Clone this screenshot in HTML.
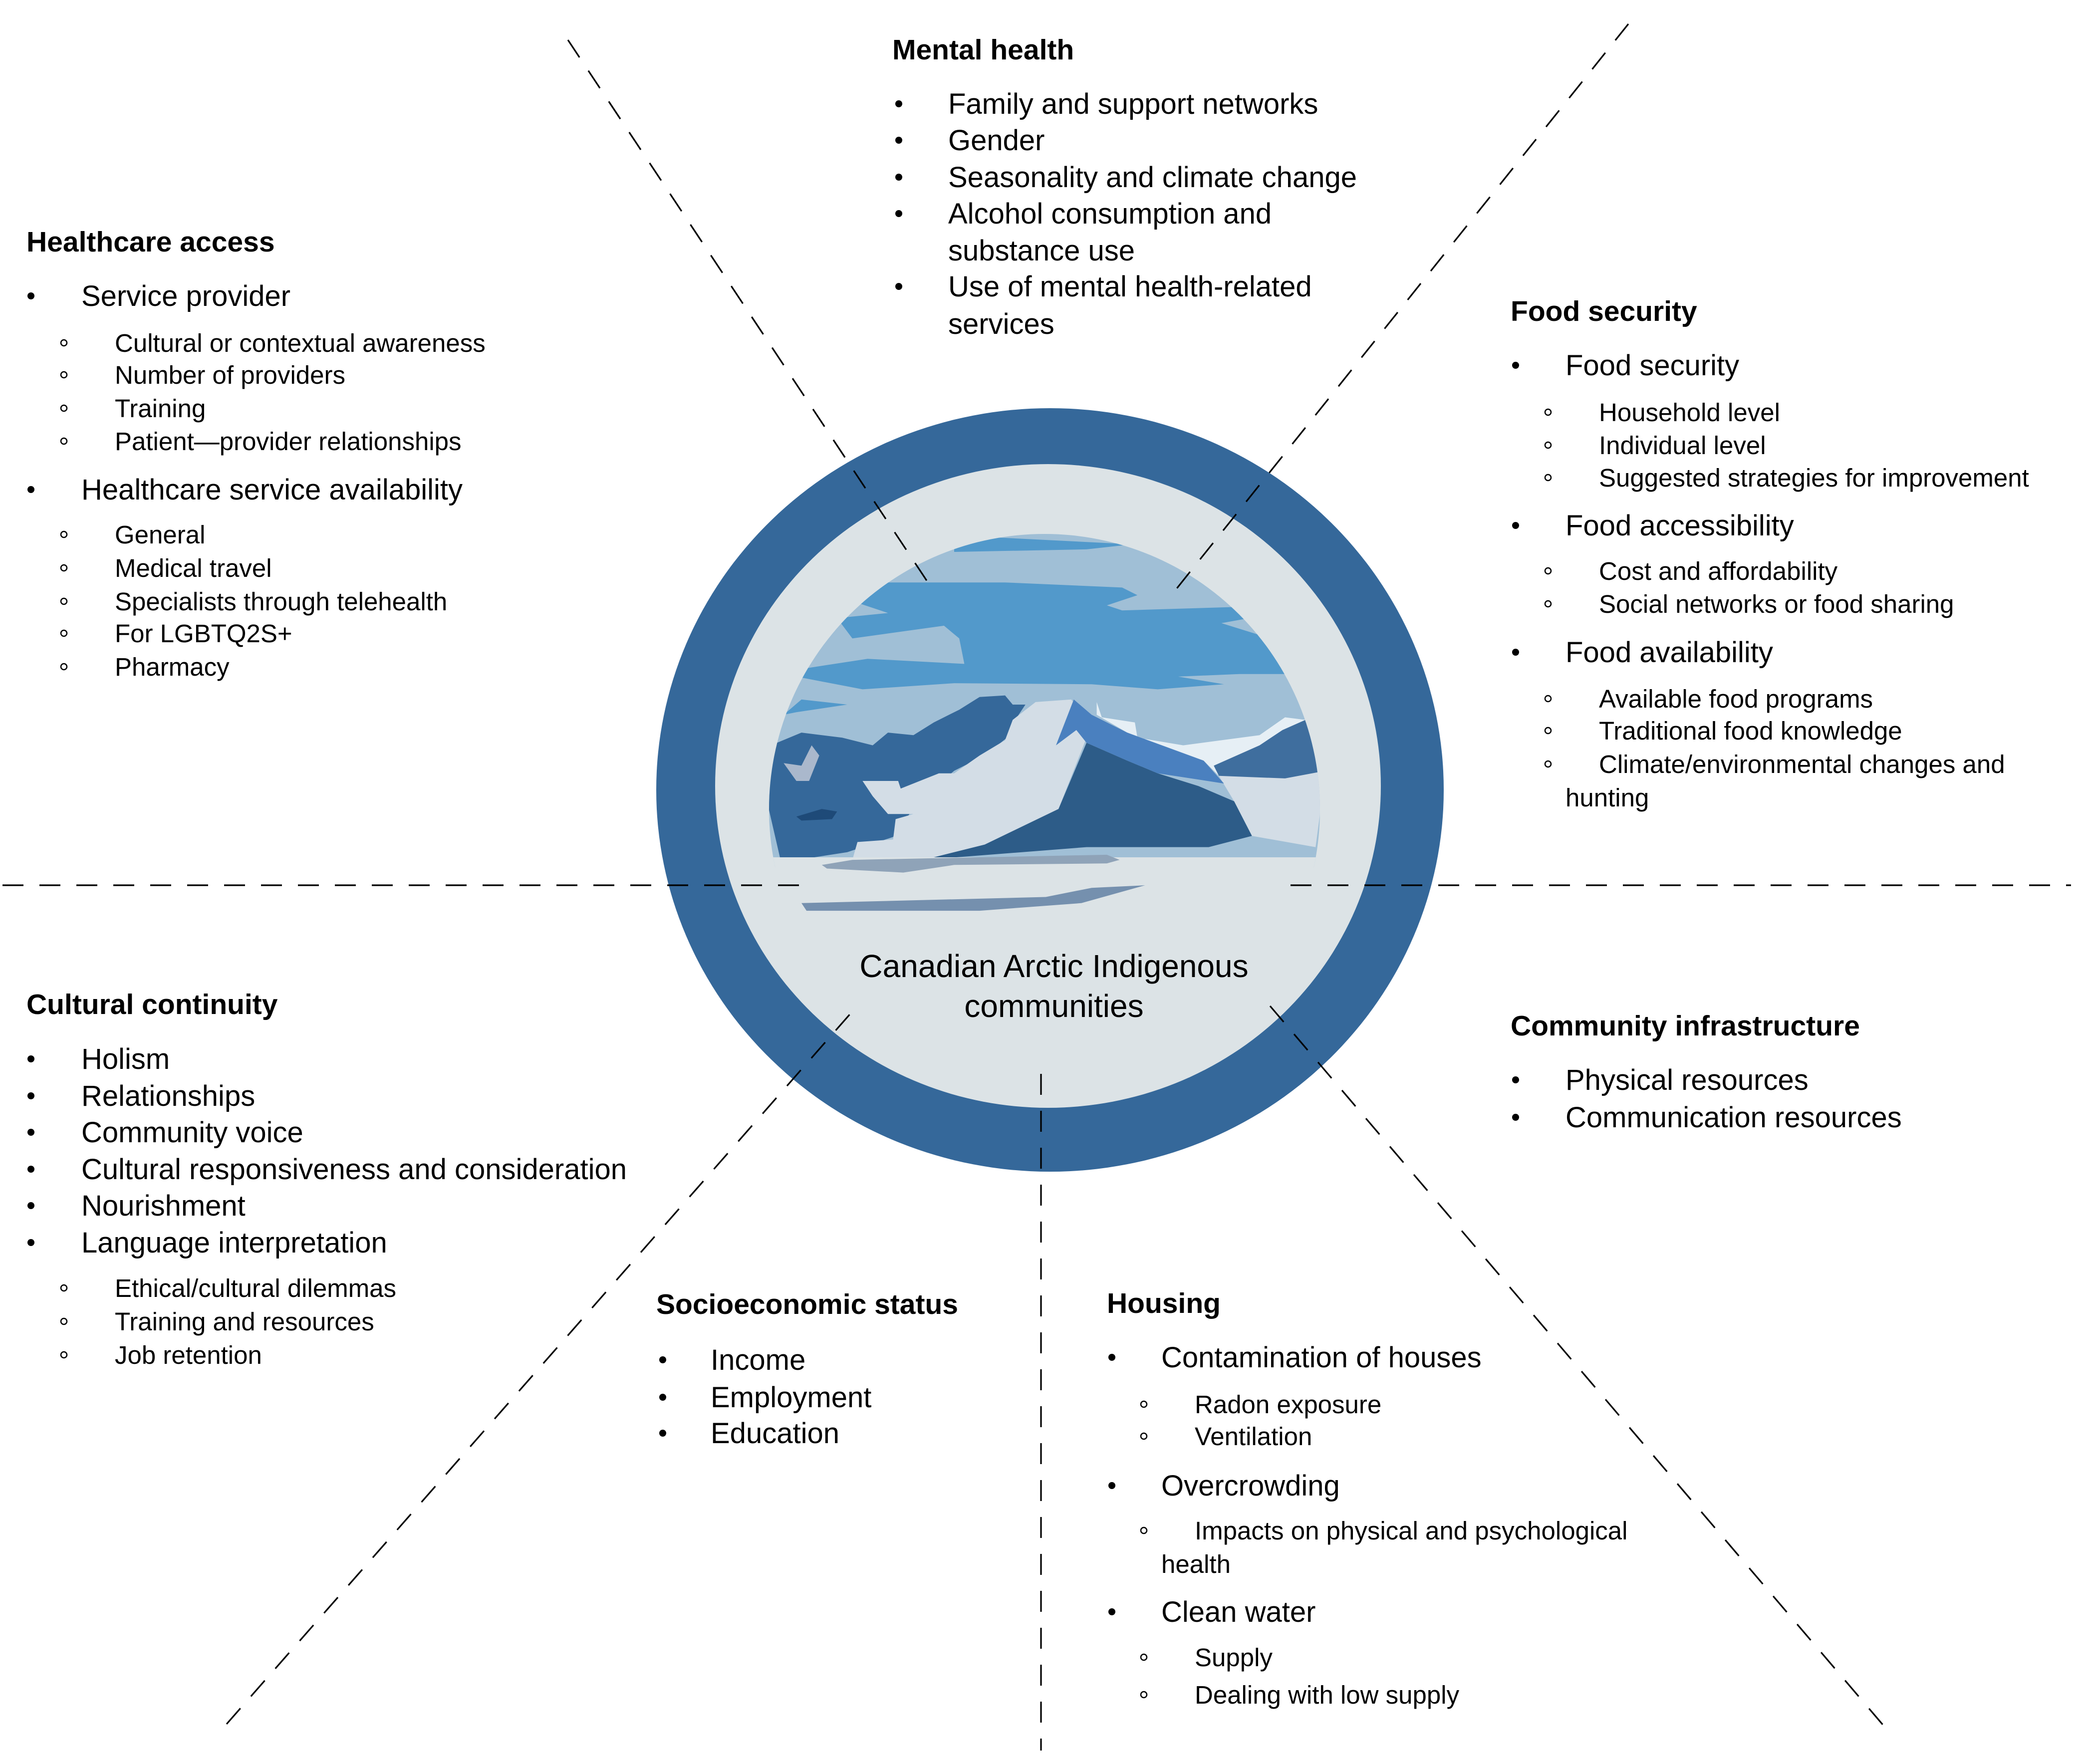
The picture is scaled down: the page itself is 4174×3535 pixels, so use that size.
<!DOCTYPE html>
<html><head><meta charset="utf-8"><style>
html,body{margin:0;padding:0;background:#fff}
svg{display:block}
text{font-family:"Liberation Sans",Arial,sans-serif;fill:#000}
.t{font-weight:bold;font-size:57px}
.m{font-size:58px}
.s{font-size:51px}
.c{font-size:64px}
</style></head><body>
<svg width="4174" height="3535" viewBox="0 0 4174 3535" xmlns="http://www.w3.org/2000/svg">
<defs>
<clipPath id="cp"><circle cx="2093" cy="1622" r="552"/></clipPath>
</defs>
<!-- circle -->
<ellipse cx="2104" cy="1583" rx="789" ry="765" fill="#35689a"/>
<ellipse cx="2100" cy="1575" rx="667" ry="645" fill="#dce3e6"/>
<!-- landscape -->
<g clip-path="url(#cp)">
<g transform="translate(1300,800) scale(1.02)">
<rect x="200" y="240" width="1150" height="680" fill="#a0bfd6"/>
<polygon fill="#5299cb" points="415,385 470,360 700,360 930,370 960,385 900,405 930,415 1160,408 1180,430 1125,440 1215,468 1260,540 1160,540 1040,545 1130,560 1000,570 870,560 600,558 420,570 290,545 300,530 430,510 620,520 610,470 580,445 400,470 370,430 470,420 410,400"/>
<polygon fill="#5299cb" points="600,290 650,270 950,285 860,295 600,300"/>
<polygon fill="#5299cb" points="265,620 300,590 390,600 290,615"/>
<polygon fill="#e6eff5" points="880,595 890,625 955,635 960,665 1050,680 1200,660 1250,625 1290,630 1300,720 1120,740 1090,710 940,655 880,620"/>
<polygon fill="#3f6e9e" points="1110,720 1200,680 1245,650 1290,630 1330,730 1250,750 1120,740"/>
<polygon fill="#d3dde6" points="1120,740 1250,745 1330,730 1310,880 1185,858 1150,790"/>
<polygon fill="#35689a" points="240,680 300,655 380,665 440,680 470,655 520,660 560,635 610,610 650,585 700,582 715,600 740,600 720,630 710,660 660,700 600,730 530,790 480,860 390,890 260,910 230,780"/>
<polygon fill="#d3dde6" points="420,750 490,750 495,765 570,735 600,735 650,700 700,670 715,630 760,595 830,590 870,640 805,805 660,875 540,905 400,905 410,870 480,865 485,825 520,815 470,815 440,780"/>
<polygon fill="#2d5c88" points="860,675 940,710 1000,735 1080,760 1150,790 1185,858 1100,880 860,880 540,905 660,875 805,805"/>
<polygon fill="#4a80bf" points="800,680 835,590 870,620 940,655 1090,710 1130,755 1000,735 940,710 860,675 840,650"/>
<polygon fill="#1e4a78" points="290,820 340,805 370,810 360,825 300,828"/>
<polygon fill="#aab8cc" points="265,715 300,720 320,680 335,700 315,750 290,750"/>
<rect x="200" y="900" width="1150" height="40" fill="#dce3e6"/>
<polygon fill="#8fa3b8" points="340,915 400,905 900,895 925,905 900,912 600,915 500,930 350,922"/>
</g>
</g>
<polygon transform="translate(1300,800) scale(1.02)" fill="#7590ae" points="300,990 780,978 870,960 975,955 850,990 650,1005 310,1005"/>
<!-- dashed lines -->
<g stroke="#000" stroke-width="3.2" stroke-dasharray="42,32" fill="none">
<line x1="5" y1="1774" x2="1621" y2="1774"/>
<line x1="2586" y1="1774" x2="4150" y2="1774"/>
<line x1="1138" y1="80" x2="1858" y2="1165"/>
<line x1="3263" y1="48" x2="2351" y2="1188"/>
<line x1="454" y1="3455" x2="1714" y2="2020"/>
<line x1="2545" y1="2016" x2="3776" y2="3460"/>
<line x1="2086" y1="2152" x2="2086" y2="3508"/>
</g>
<!-- center text -->
<text class="c" x="2112" y="1958" text-anchor="middle">Canadian Arctic Indigenous</text>
<text class="c" x="2112" y="2038" text-anchor="middle">communities</text>

<g fill="#000">
<!-- bullets filled -->
<circle cx="1801" cy="208" r="7"/><circle cx="1801" cy="281" r="7"/><circle cx="1801" cy="355" r="7"/><circle cx="1801" cy="428" r="7"/><circle cx="1801" cy="574" r="7"/>
<circle cx="62" cy="593" r="7"/><circle cx="62" cy="981" r="7"/>
<circle cx="3037" cy="732" r="7"/><circle cx="3037" cy="1053" r="7"/><circle cx="3037" cy="1307" r="7"/>
<circle cx="62" cy="2122" r="7"/><circle cx="62" cy="2196" r="7"/><circle cx="62" cy="2269" r="7"/><circle cx="62" cy="2343" r="7"/><circle cx="62" cy="2416" r="7"/><circle cx="62" cy="2490" r="7"/>
<circle cx="3037" cy="2164" r="7"/><circle cx="3037" cy="2239" r="7"/>
<circle cx="1328" cy="2725" r="7"/><circle cx="1328" cy="2800" r="7"/><circle cx="1328" cy="2872" r="7"/>
<circle cx="2228" cy="2720" r="7"/><circle cx="2228" cy="2977" r="7"/><circle cx="2228" cy="3230" r="7"/>
</g>
<g fill="none" stroke="#000" stroke-width="2.5">
<circle cx="128" cy="687" r="6"/><circle cx="128" cy="751" r="6"/><circle cx="128" cy="818" r="6"/><circle cx="128" cy="884" r="6"/>
<circle cx="128" cy="1071" r="6"/><circle cx="128" cy="1138" r="6"/><circle cx="128" cy="1205" r="6"/><circle cx="128" cy="1269" r="6"/><circle cx="128" cy="1336" r="6"/>
<circle cx="3102" cy="826" r="6"/><circle cx="3102" cy="892" r="6"/><circle cx="3102" cy="957" r="6"/>
<circle cx="3102" cy="1144" r="6"/><circle cx="3102" cy="1210" r="6"/>
<circle cx="3102" cy="1400" r="6"/><circle cx="3102" cy="1464" r="6"/><circle cx="3102" cy="1531" r="6"/>
<circle cx="128" cy="2581" r="6"/><circle cx="128" cy="2648" r="6"/><circle cx="128" cy="2715" r="6"/>
<circle cx="2292" cy="2814" r="6"/><circle cx="2292" cy="2878" r="6"/><circle cx="2292" cy="3067" r="6"/><circle cx="2292" cy="3321" r="6"/><circle cx="2292" cy="3396" r="6"/>
</g>

<!-- Mental health -->
<text class="t" x="1788" y="119">Mental health</text>
<text class="m" x="1900" y="228">Family and support networks</text>
<text class="m" x="1900" y="301">Gender</text>
<text class="m" x="1900" y="375">Seasonality and climate change</text>
<text class="m" x="1900" y="448">Alcohol consumption and</text>
<text class="m" x="1900" y="522">substance use</text>
<text class="m" x="1900" y="594">Use of mental health-related</text>
<text class="m" x="1900" y="669">services</text>

<!-- Healthcare access -->
<text class="t" x="53" y="504">Healthcare access</text>
<text class="m" x="163" y="613">Service provider</text>
<text class="s" x="230" y="705">Cultural or contextual awareness</text>
<text class="s" x="230" y="769">Number of providers</text>
<text class="s" x="230" y="836">Training</text>
<text class="s" x="230" y="902">Patient—provider relationships</text>
<text class="m" x="163" y="1001">Healthcare service availability</text>
<text class="s" x="230" y="1089">General</text>
<text class="s" x="230" y="1156">Medical travel</text>
<text class="s" x="230" y="1223">Specialists through telehealth</text>
<text class="s" x="230" y="1287">For LGBTQ2S+</text>
<text class="s" x="230" y="1354">Pharmacy</text>

<!-- Food security -->
<text class="t" x="3027" y="643">Food security</text>
<text class="m" x="3137" y="752">Food security</text>
<text class="s" x="3204" y="844">Household level</text>
<text class="s" x="3204" y="910">Individual level</text>
<text class="s" x="3204" y="975">Suggested strategies for improvement</text>
<text class="m" x="3137" y="1073">Food accessibility</text>
<text class="s" x="3204" y="1162">Cost and affordability</text>
<text class="s" x="3204" y="1228">Social networks or food sharing</text>
<text class="m" x="3137" y="1327">Food availability</text>
<text class="s" x="3204" y="1418">Available food programs</text>
<text class="s" x="3204" y="1482">Traditional food knowledge</text>
<text class="s" x="3204" y="1549">Climate/environmental changes and</text>
<text class="s" x="3137" y="1616">hunting</text>

<!-- Cultural continuity -->
<text class="t" x="53" y="2032">Cultural continuity</text>
<text class="m" x="163" y="2142">Holism</text>
<text class="m" x="163" y="2216">Relationships</text>
<text class="m" x="163" y="2289">Community voice</text>
<text class="m" x="163" y="2363">Cultural responsiveness and consideration</text>
<text class="m" x="163" y="2436">Nourishment</text>
<text class="m" x="163" y="2510">Language interpretation</text>
<text class="s" x="230" y="2599">Ethical/cultural dilemmas</text>
<text class="s" x="230" y="2666">Training and resources</text>
<text class="s" x="230" y="2733">Job retention</text>

<!-- Community infrastructure -->
<text class="t" x="3027" y="2075">Community infrastructure</text>
<text class="m" x="3137" y="2184">Physical resources</text>
<text class="m" x="3137" y="2259">Communication resources</text>

<!-- Socioeconomic status -->
<text class="t" x="1315" y="2633">Socioeconomic status</text>
<text class="m" x="1424" y="2745">Income</text>
<text class="m" x="1424" y="2820">Employment</text>
<text class="m" x="1424" y="2892">Education</text>

<!-- Housing -->
<text class="t" x="2218" y="2631">Housing</text>
<text class="m" x="2327" y="2740">Contamination of houses</text>
<text class="s" x="2394" y="2832">Radon exposure</text>
<text class="s" x="2394" y="2896">Ventilation</text>
<text class="m" x="2327" y="2997">Overcrowding</text>
<text class="s" x="2394" y="3085">Impacts on physical and psychological</text>
<text class="s" x="2327" y="3152">health</text>
<text class="m" x="2327" y="3250">Clean water</text>
<text class="s" x="2394" y="3339">Supply</text>
<text class="s" x="2394" y="3414">Dealing with low supply</text>
</svg>
</body></html>
